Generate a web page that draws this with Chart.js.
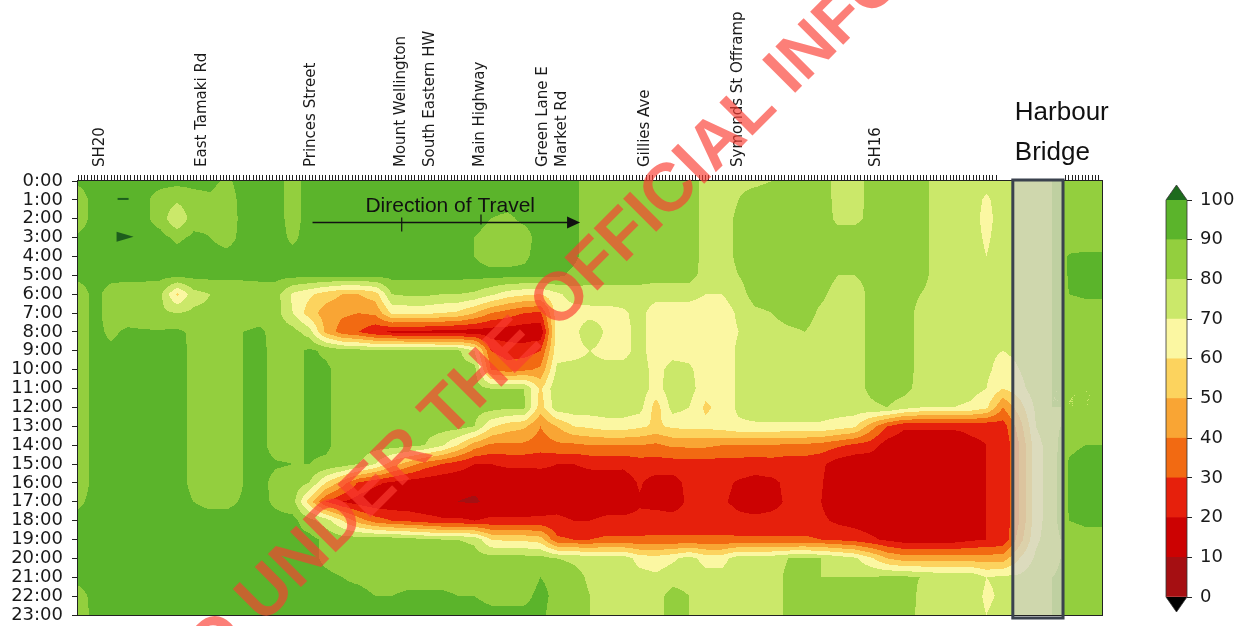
<!DOCTYPE html>
<html><head><meta charset="utf-8"><title>Motorway speed heatmap</title>
<script src="https://cdn.jsdelivr.net/npm/chart.js@4.4.1/dist/chart.umd.min.js"></script>
<style>
html,body{margin:0;padding:0;background:#fff;overflow:hidden}
#wrap{position:relative;width:1244px;height:626px}
canvas{position:absolute;display:block}
#main{left:0;top:0}
#cbar{left:1150px;top:180px}
</style></head>
<body><div id="wrap"><canvas id="main" width="1244" height="626"></canvas><canvas id="cbar" width="94" height="446"></canvas></div>
<script>
// ---------- tick labels ----------
const hourLabels = ['0:00','1:00','2:00','3:00','4:00','5:00','6:00','7:00','8:00','9:00','10:00','11:00',
  '12:00','13:00','14:00','15:00','16:00','17:00','18:00','19:00','20:00','21:00','22:00','23:00'];
const locationNames = ['SH20','East Tamaki Rd','Princes Street','Mount Wellington','South Eastern HW',
  'Main Highway','Green Lane E','Market Rd','Gillies Ave','Symonds St Offramp','SH16'];
const locationStations = [7,38,71,98,107,122,141,147,172,200,242];
const cbarTicks = [0,10,20,30,40,50,60,70,80,90,100];
const levels = [0,10,20,30,40,50,60,70,80,90,100];
const bandColors = ['#a50f12','#cc0202','#e6200c','#f26a12','#f9a534','#fcd35e','#fbf7a2','#cbe86a','#93cf3e','#5bb42b'];
const overColor = '#1d6b1d', underColor = '#000000';
const bridgeStart = 283, bridgeEnd = 298.2;

// ---------- speed (% of limit) per hour, one value per data column (every 5 stations) ----------
const h00 = [92,94,94,94,93,93,93,93,93,88, 94,94,94,86,94,94,94,94,94,94, 94,94,94,94,94,94,94,94,94,94, 92,86,86,86,86,82,86,86,76,76, 78,78,80,84,84,84,77,77,82,86, 86,85,76,76,76,74,76,78,78,80, 82,82,82];
const h01 = [84,94,94,94,92,86,82,86,88,84, 94,94,94,86,94,94,94,94,94,94, 94,94,94,94,94,94,94,94,94,94, 92,86,86,86,86,86,86,86,76,76, 80,84,85,85,85,85,77,77,82,86, 86,85,76,74,76,68,76,78,78,80, 82,82,82];
const h02 = [84,94,94,94,92,86,70,86,88,84, 93,94,94,86,94,94,94,94,94,94, 94,94,94,94,94,90,88,92,94,94, 92,86,86,86,86,86,86,86,76,76, 82,85,85,85,85,85,78,78,82,86, 86,85,76,72,76,66,76,78,78,80, 82,82,82];
const h03 = [92,94,94,94,94,93,88,92,90,86, 93,94,94,88,94,94,94,94,94,94, 94,94,94,94,90,86,86,86,94,94, 92,86,86,86,86,86,86,86,76,76, 82,85,85,85,85,85,84,84,82,86, 86,85,76,74,76,68,76,78,78,80, 84,84,84];
const h04 = [93,94,94,94,94,94,94,94,94,93, 94,94,94,93,94,94,94,94,94,94, 94,94,94,94,90,86,86,88,94,94, 92,86,86,86,86,86,86,86,76,76, 82,85,85,85,85,85,84,84,82,86, 86,85,76,76,76,70,76,78,78,80, 91,92,92];
const h05 = [93,94,93,93,93,93,93,93,93,93, 93,93,93,93,93,93,93,93,93,93, 93,93,93,93,93,93,93,93,93,92, 88,84,84,84,84,84,84,84,76,76, 80,85,85,85,85,85,80,80,82,86, 86,84,76,76,76,74,76,78,78,80, 91,94,94];
const h06 = [84,93,86,84,84,82,58,76,80,80, 82,84,84,68,62,55,50,50,55,80, 82,82,80,80,78,72,65,62,60,68, 74,76,76,76,76,74,74,74,70,70, 76,84,84,84,84,82,76,76,82,86, 86,80,76,76,76,74,74,76,78,80, 90,92,92];
const h07 = [84,93,86,84,84,82,80,82,82,82, 84,85,84,70,55,45,42,40,42,62, 62,62,60,58,50,40,35,30,28,66, 66,66,66,68,74,64,64,64,64,64, 72,78,80,84,84,78,76,76,82,86, 86,76,76,76,76,74,74,76,78,80, 82,84,84];
const h08 = [84,93,88,92,91,91,92,88,84,84, 90,92,86,84,75,48,35,30,22,18, 17,17,16,15,15,14,14,13,12,66, 66,78,68,66,74,64,64,64,64,64, 70,76,76,78,80,76,76,76,82,86, 86,76,76,74,76,72,72,74,78,80, 82,82,82];
const h09 = [84,93,92,93,92,92,93,88,84,84, 90,93,86,86,92,88,84,84,82,82, 82,82,82,82,70,30,25,25,30,66, 66,70,66,66,74,64,66,66,64,64, 72,76,76,76,76,76,76,76,82,86, 86,76,76,74,76,72,70,72,78,80, 82,82,82];
const h10 = [84,93,92,93,91,92,93,88,84,84, 90,93,86,86,92,92,86,86,86,86, 86,84,84,84,84,40,35,38,42,72, 74,74,74,74,75,66,74,72,64,64, 72,76,76,76,76,76,76,76,82,86, 86,76,76,76,74,72,66,70,78,80, 82,82,82];
const h11 = [84,93,92,93,91,92,93,88,84,84, 90,93,86,86,92,92,86,86,86,86, 86,84,84,84,84,80,80,80,58,78, 76,76,76,76,76,66,76,74,64,64, 72,76,76,76,76,76,76,76,82,86, 84,76,76,76,74,70,60,66,76,80, 80,80,80];
const h12 = [84,93,92,93,91,92,93,88,84,84, 90,93,86,86,92,92,86,86,86,86, 86,84,84,84,84,84,82,82,55,76, 76,76,76,76,74,55,74,70,58,64, 72,76,76,76,76,76,76,76,78,80, 74,70,70,70,68,62,40,55,72,80, 80,80,80];
const h13 = [84,93,92,93,91,92,93,88,84,84, 90,93,86,86,92,92,86,86,86,86, 86,84,84,84,80,62,55,52,40,50, 60,62,65,65,62,58,62,63,63,65, 68,68,68,68,68,68,65,62,45,30, 22,22,22,22,22,22,25,45,70,78, 82,84,84];
const h14 = [84,93,93,93,92,92,93,88,84,84, 90,93,86,86,92,92,86,86,84,85, 83,80,72,60,45,38,38,38,35,38, 38,40,40,40,40,38,42,42,42,40, 40,40,40,38,38,36,32,28,25,15, 12,12,12,12,18,20,22,40,66,76, 88,90,90];
const h15 = [84,93,93,93,92,92,93,88,84,84, 90,93,91,90,90,88,85,80,70,55, 45,35,30,25,20,20,22,22,22,20, 20,22,22,22,25,25,25,26,26,25, 25,24,25,24,24,22,15,12,12,12, 12,12,12,12,18,20,22,40,66,76, 91,94,94];
const h16 = [84,93,93,93,92,92,93,88,84,84, 90,93,87,86,80,60,45,28,22,18, 15,14,12,12,12,12,12,12,14,16, 15,15,16,15,21,16,16,23,23,22, 19,17,18,22,23,21,12,12,12,12, 12,12,12,12,18,20,22,40,66,76, 91,94,94];
const h17 = [88,93,93,93,92,92,93,90,88,88, 91,93,88,84,55,30,20,15,12,12, 12,10,10,10,9,12,12,12,14,16, 15,14,15,15,19,17,15,22,22,21, 18,16,18,21,22,20,12,12,12,12, 12,12,12,12,18,20,22,40,66,76, 91,94,94];
const h18 = [93,94,94,94,93,93,93,93,93,93, 93,93,93,93,84,75,60,45,35,30, 28,25,22,22,20,22,22,22,22,22, 20,20,22,22,22,24,24,24,24,24, 22,22,22,22,22,22,18,16,14,12, 12,12,12,12,18,20,22,40,66,76, 90,92,92];
const h19 = [93,94,94,94,93,93,93,93,93,93, 93,93,93,93,93,88,85,86,86,86, 84,82,80,80,78,60,58,58,55,32, 30,30,32,32,32,32,32,32,32,32, 32,32,32,32,32,30,28,26,22,18, 15,15,15,15,18,20,22,45,68,76, 84,86,86];
const h20 = [93,94,94,94,93,93,93,93,93,93, 93,93,93,93,93,88,85,86,86,86, 86,86,86,86,84,84,84,84,84,80, 78,76,76,76,66,64,68,74,66,66, 76,76,76,80,81,80,76,72,62,50, 45,45,45,45,45,45,45,60,72,78, 82,82,82];
const h21 = [93,94,94,94,93,93,93,93,93,93, 93,93,93,93,93,92,90,88,86,86, 86,86,86,86,86,86,86,86,90,88, 84,78,78,76,74,72,76,76,74,74, 76,76,76,82,82,80,80,80,80,82, 82,80,78,78,78,70,72,72,76,80, 82,82,82];
const h22 = [86,93,93,93,93,93,93,93,93,93, 93,93,93,93,93,93,93,93,90,90, 92,92,92,90,90,88,88,88,92,88, 86,80,78,76,76,76,84,80,76,76, 76,76,76,82,82,80,82,82,84,86, 86,78,76,76,76,68,72,74,78,80, 82,82,84];
const h23 = [84,93,93,93,93,93,93,93,93,93, 93,93,93,93,93,93,93,93,93,93, 93,93,93,93,93,92,92,92,92,86, 86,80,78,76,76,76,84,80,76,76, 76,76,76,82,82,80,82,82,84,86, 84,78,76,76,76,70,74,76,78,80, 82,84,86];

const grid = [h00,h01,h02,h03,h04,h05,h06,h07,h08,h09,h10,h11,h12,h13,h14,h15,h16,h17,h18,h19,h20,h21,h22,h23];
const columnStations = h00.map((_, i) => i * 5);          // data columns every 5 detector stations
const rowHours = hourLabels.map((_, i) => i);
grid.forEach((r, i) => { if (r.length !== columnStations.length) throw new Error('row ' + i + ' has ' + r.length); });

// detector station tick marks along the top axis
const tickStations = [];
for (let s = 0; s <= 278; s++) tickStations.push(s);
for (let s = 299; s <= 309; s++) tickStations.push(s);

// ---------- helpers ----------
function hexToRgb(h){ const n = parseInt(h.slice(1), 16); return [(n>>16)&255, (n>>8)&255, n&255]; }
const bandRGB = bandColors.map(hexToRgb), overRGB = hexToRgb(overColor), underRGB = hexToRgb(underColor);
function colourFor(v){
  if (v >= levels[levels.length-1]) return overRGB;
  if (v < levels[0]) return underRGB;
  let i = 0; while (i < levels.length-2 && v >= levels[i+1]) i++;
  return bandRGB[i];
}
function locate(arr, v){
  let i = 0; while (i < arr.length-2 && v > arr[i+1]) i++;
  let t = (v - arr[i]) / (arr[i+1] - arr[i]);
  return [i, Math.max(0, Math.min(1, t))];
}

const heatmapPlugin = {
  id: 'heatmap',
  beforeDatasetsDraw(chart){
    const {ctx, chartArea: a, scales: {x, y}} = chart;
    const L = Math.round(a.left), T = Math.round(a.top);
    const w = Math.round(a.right) - L, h = Math.round(a.bottom) - T;
    const off = document.createElement('canvas'); off.width = w; off.height = h;
    const octx = off.getContext('2d'); const img = octx.createImageData(w, h);
    const cx = [], ry = [];
    for (let px = 0; px < w; px++) cx.push(locate(columnStations, x.getValueForPixel(L + px + 0.5)));
    for (let py = 0; py < h; py++) ry.push(locate(rowHours, y.getValueForPixel(T + py + 0.5)));
    let k = 0;
    for (let py = 0; py < h; py++){
      const [ri, u] = ry[py]; const r0 = grid[ri], r1 = grid[ri+1];
      for (let px = 0; px < w; px++){
        const [ci, t] = cx[px];
        const v = r0[ci]*(1-t)*(1-u) + r0[ci+1]*t*(1-u) + r1[ci]*(1-t)*u + r1[ci+1]*t*u;
        const c = colourFor(v);
        img.data[k++] = c[0]; img.data[k++] = c[1]; img.data[k++] = c[2]; img.data[k++] = 255;
      }
    }
    octx.putImageData(img, 0, 0);
    ctx.drawImage(off, L, T);
  }
};

const overlayPlugin = {
  id: 'overlay',
  afterDraw(chart){
    const {ctx, chartArea: a, scales: {x, y}} = chart;
    ctx.save();
    // frame
    ctx.strokeStyle = '#222'; ctx.lineWidth = 1;
    ctx.strokeRect(Math.round(a.left) - 0.5, Math.round(a.top) - 0.5, Math.round(a.right - a.left) + 1, Math.round(a.bottom - a.top) + 1);
    // harbour bridge shading and box
    const bx0 = x.getPixelForValue(bridgeStart), bx1 = x.getPixelForValue(bridgeEnd);
    ctx.fillStyle = 'rgba(208,208,200,0.72)';
    ctx.fillRect(bx0, a.top, bx1 - bx0, a.bottom - a.top);
    ctx.strokeStyle = '#3b424e'; ctx.lineWidth = 3;
    ctx.strokeRect(bx0, a.top - 1, bx1 - bx0, a.bottom - a.top + 4);
    ctx.fillStyle = '#111'; ctx.font = '26px "Liberation Sans", Arial, sans-serif';
    ctx.textAlign = 'left'; ctx.textBaseline = 'alphabetic';
    ctx.fillText('Harbour', bx0 + 2, 120);
    ctx.fillText('Bridge', bx0 + 2, 160);
    // direction of travel
    const ay = y.getPixelForValue(2.2);
    const ax0 = x.getPixelForValue(71), ax1 = x.getPixelForValue(152);
    ctx.strokeStyle = '#111'; ctx.lineWidth = 1.5;
    ctx.beginPath(); ctx.moveTo(ax0, ay); ctx.lineTo(ax1 - 10, ay); ctx.stroke();
    ctx.beginPath(); ctx.moveTo(ax1, ay); ctx.lineTo(ax1 - 13, ay - 6); ctx.lineTo(ax1 - 13, ay + 6); ctx.closePath();
    ctx.fillStyle = '#111'; ctx.fill();
    ctx.lineWidth = 1.2;
    [[98, -5, 9], [122, -8, 2]].forEach(([s, d0, d1]) => {
      const px = x.getPixelForValue(s); ctx.beginPath(); ctx.moveTo(px, ay + d0); ctx.lineTo(px, ay + d1); ctx.stroke();
    });
    ctx.font = '21px "Liberation Sans", Arial, sans-serif';
    ctx.fillStyle = '#111';
    ctx.fillText('Direction of Travel', x.getPixelForValue(87), y.getPixelForValue(1.65));
    // small dark marks
    ctx.fillStyle = '#1d5e1d';
    const mx = x.getPixelForValue(13.5), my1 = y.getPixelForValue(0.95), my2 = y.getPixelForValue(2.95);
    ctx.fillRect(mx - 5, my1 - 1, 11, 2);
    ctx.beginPath(); ctx.moveTo(mx - 6, my2 - 5); ctx.lineTo(mx + 11, my2); ctx.lineTo(mx - 6, my2 + 5); ctx.closePath(); ctx.fill();
    // watermark
    ctx.translate(263, 625); ctx.rotate(-Math.PI / 4);
    ctx.font = 'bold 68px "Liberation Sans", Arial, sans-serif';
    ctx.fillStyle = 'rgba(250,60,50,0.66)';
    ctx.textAlign = 'left';
    const pre = 'RELEASED ';
    ctx.fillText(pre + 'UNDER THE OFFICIAL INFORMATION ACT', -ctx.measureText(pre).width, 0);
    ctx.restore();
  }
};

new Chart(document.getElementById('main'), {
  type: 'scatter',
  data: { datasets: [] },
  options: {
    responsive: false, animation: false, devicePixelRatio: 1,
    layout: { padding: { left: 0, right: 142, top: 0, bottom: 11 } },
    plugins: { legend: { display: false }, tooltip: { enabled: false } },
    scales: {
      x: {
        type: 'linear', position: 'top', min: 0, max: 310,
        afterBuildTicks: s => { s.ticks = tickStations.map(v => ({ value: v })); },
        afterFit: s => { s.height = 181; s.paddingLeft = 0; s.paddingRight = 0; },
        ticks: {
          autoSkip: false, minRotation: 90, maxRotation: 90, padding: 8, labelOffset: 17,
          font: { family: 'DejaVu Sans', size: 15 }, color: '#1a1a1a',
          callback: v => { const i = locationStations.indexOf(v); return i >= 0 ? locationNames[i] : ''; }
        },
        grid: { drawOnChartArea: false, drawTicks: true, tickLength: 6, tickColor: '#222', tickWidth: 1 },
        border: { display: true, color: '#222' }
      },
      y: {
        type: 'linear', min: 0, max: 23, reverse: true,
        afterBuildTicks: s => { s.ticks = rowHours.map(v => ({ value: v })); },
        afterFit: s => { s.width = 78; s.paddingTop = 0; s.paddingBottom = 0; },
        ticks: { autoSkip: false, padding: 9, font: { family: 'DejaVu Sans', size: 18 }, color: '#1a1a1a',
                 callback: v => hourLabels[v] },
        grid: { drawOnChartArea: false, tickLength: 6, tickColor: '#222' },
        border: { display: true, color: '#222' }
      }
    }
  },
  plugins: [heatmapPlugin, overlayPlugin]
});

// ---------- colour bar ----------
const cbarArrows = {
  id: 'cbarArrows',
  afterDatasetsDraw(chart){
    const {ctx, chartArea: a} = chart;
    const cx = (a.left + a.right) / 2;
    ctx.save();
    ctx.fillStyle = overColor;
    ctx.beginPath(); ctx.moveTo(a.left, a.top); ctx.lineTo(cx, a.top - 15); ctx.lineTo(a.right, a.top); ctx.closePath(); ctx.fill();
    ctx.fillStyle = underColor;
    ctx.beginPath(); ctx.moveTo(a.left, a.bottom); ctx.lineTo(cx, a.bottom + 15); ctx.lineTo(a.right, a.bottom); ctx.closePath(); ctx.fill();
    ctx.strokeStyle = '#333'; ctx.lineWidth = 0.8;
    ctx.beginPath();
    ctx.moveTo(a.left, a.top); ctx.lineTo(cx, a.top - 15); ctx.lineTo(a.right, a.top);
    ctx.lineTo(a.right, a.bottom); ctx.lineTo(cx, a.bottom + 15); ctx.lineTo(a.left, a.bottom); ctx.closePath();
    ctx.stroke();
    ctx.restore();
  }
};
new Chart(document.getElementById('cbar'), {
  type: 'bar',
  data: {
    labels: [''],
    datasets: bandColors.map((c, i) => ({ data: [levels[i+1] - levels[i]], backgroundColor: c, borderWidth: 0,
      barPercentage: 1, categoryPercentage: 1 }))
  },
  options: {
    responsive: false, animation: false, devicePixelRatio: 1,
    layout: { padding: { left: 16, top: 20, bottom: 29, right: 0 } },
    plugins: { legend: { display: false }, tooltip: { enabled: false } },
    scales: {
      x: { display: false, stacked: true },
      y: {
        stacked: true, position: 'right', min: 0, max: 100,
        afterBuildTicks: s => { s.ticks = cbarTicks.map(v => ({ value: v })); },
        afterFit: s => { s.width = 57; },
        ticks: { padding: 8, font: { family: 'DejaVu Sans', size: 18 }, color: '#1a1a1a' },
        grid: { drawOnChartArea: false, tickLength: 5, tickColor: '#222' },
        border: { display: false }
      }
    }
  },
  plugins: [cbarArrows]
});
</script></body></html>
